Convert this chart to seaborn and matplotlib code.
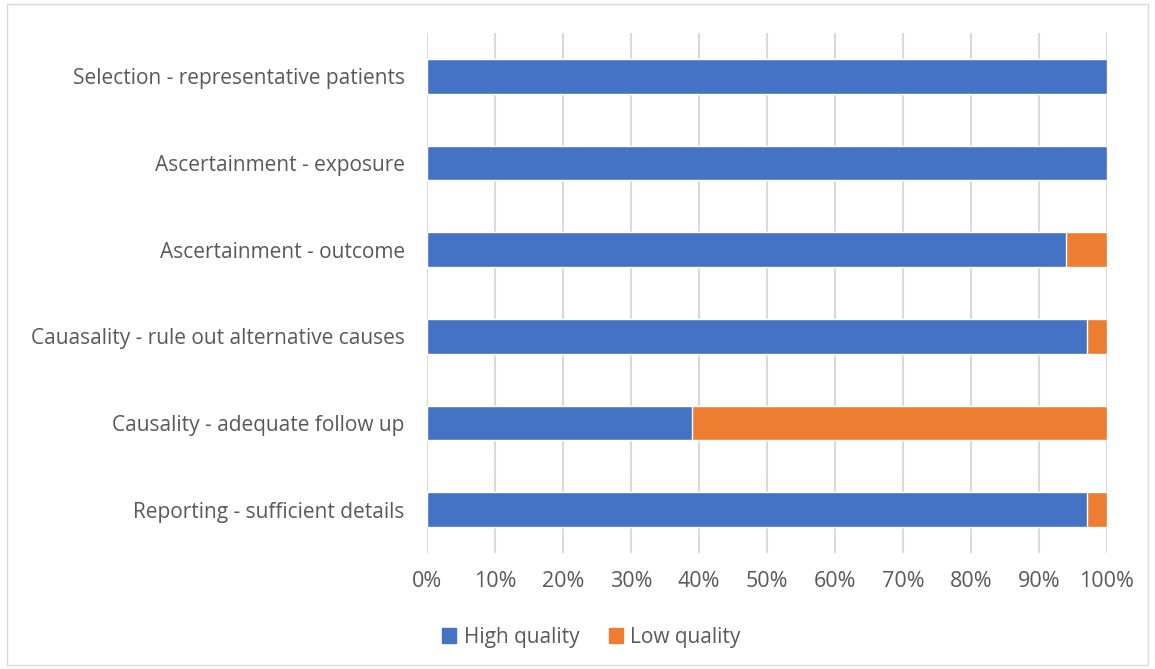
import pandas as pd
import seaborn as sns
import matplotlib.pyplot as plt
from matplotlib.patches import Patch, Rectangle

# Quality assessment data (percent of studies)
criteria = [
    "Selection - representative patients",
    "Ascertainment - exposure",
    "Ascertainment - outcome",
    "Cauasality - rule out alternative causes",
    "Causality - adequate follow up",
    "Reporting - sufficient details",
]
high_quality = [100, 100, 94, 97, 39, 97]
low_quality = [0, 0, 6, 3, 61, 3]

blue = "#4472C4"
orange = "#ED7D31"
text_color = "#595959"

df = pd.DataFrame({"Criterion": criteria, "High": high_quality, "Low": low_quality})
df["Total"] = df["High"] + df["Low"]

sns.set_style("white")
plt.rcParams["font.family"] = ["Open Sans", "DejaVu Sans"]

fig = plt.figure(figsize=(11.55, 6.69), dpi=100)
ax = fig.add_axes([0.3697, 0.1734, 0.5887, 0.7773])

# stacked bars: total (orange) underneath, high quality (blue) on top
sns.barplot(data=df, y="Criterion", x="Total", color=orange, width=0.4,
            saturation=1, ax=ax, zorder=2)
sns.barplot(data=df, y="Criterion", x="High", color=blue, width=0.4,
            saturation=1, ax=ax, zorder=3)

ax.set_xlim(0, 100)
ax.set_ylim(5.5, -0.5)
ax.set_xticks(range(0, 101, 10))
ax.set_xticklabels([f"{v}%" for v in range(0, 101, 10)])
ax.xaxis.grid(True, color="#d9d9d9", linewidth=1.5, zorder=0)
ax.yaxis.grid(False)
ax.set_axisbelow(True)
for s in ax.spines.values():
    s.set_visible(False)
ax.set_xlabel("")
ax.set_ylabel("")
ax.tick_params(axis="y", length=0, labelsize=15, colors=text_color, pad=16)
ax.tick_params(axis="x", length=0, labelsize=15.5, colors=text_color, pad=13)

handles = [Patch(color=blue, label="High quality"),
           Patch(color=orange, label="Low quality")]
fig.legend(handles=handles, loc="center", bbox_to_anchor=(0.512, 0.047),
           ncol=2, frameon=False, fontsize=15, labelcolor=text_color,
           handlelength=0.7, handleheight=0.7, handletextpad=0.35,
           columnspacing=1.4)

# light chart border
fig.patches.append(Rectangle((0.006, 0.006), 0.988, 0.988, transform=fig.transFigure,
                             fill=False, edgecolor="#d9d9d9", linewidth=1))

fig.savefig("out.png", dpi=100)
